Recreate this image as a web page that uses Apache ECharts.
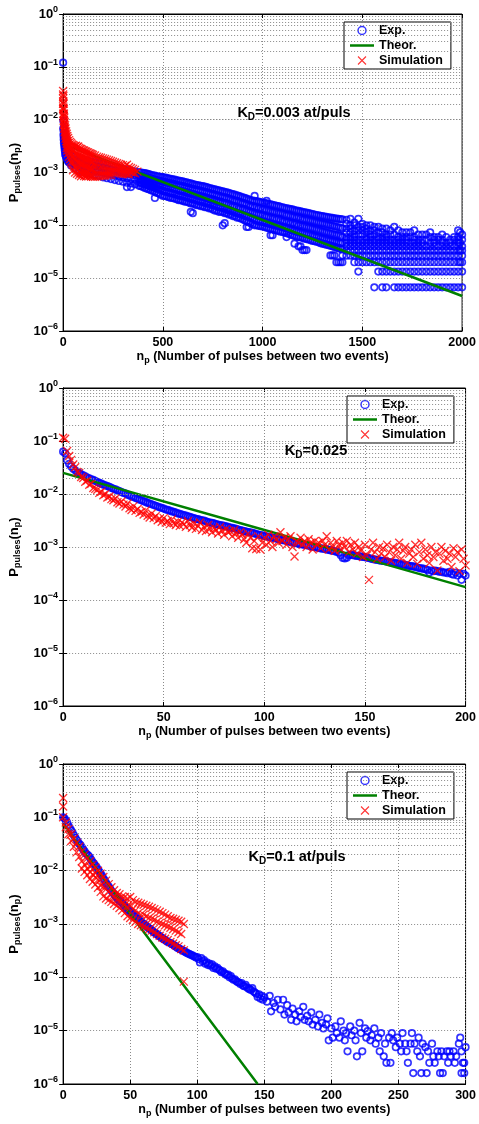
<!DOCTYPE html>
<html><head><meta charset="utf-8">
<script src="https://cdn.jsdelivr.net/npm/echarts@6/dist/echarts.min.js"></script>
<style>html,body{margin:0;padding:0;background:#fff}#c{width:479px;height:1124px}</style>
</head><body><div id="c"></div>
<script>
// ---------------- DATA ----------------
const xMaxes = [2000, 200, 300];
const xIntervals = [500, 50, 50];
const annotations = ['K_D=0.003 at/puls', 'K_D=0.025', 'K_D=0.1 at/puls'];
const legendNames = ['Exp.', 'Theor.', 'Simulation'];

// Panel 1 (rows: [n, P values at that n ...])
const exp1Rows = [
[0,0.12],[1,9.5e-3,6.5e-3],[2,7.0e-3,5.0e-3],[3,5.5e-3,4.2e-3],[4,4.6e-3,3.6e-3],[6,3.8e-3,3.1e-3],[8,3.3e-3,2.7e-3],
[10,3.0e-3,2.5e-3,2.2e-3],[14,2.7e-3,2.3e-3,2.0e-3],[18,2.5e-3,2.1e-3,1.85e-3],[22,2.4e-3,2.0e-3,1.7e-3],[26,2.3e-3,1.9e-3,1.6e-3],[30,2.3e-3,1.85e-3,1.55e-3],
[40,2.2e-3,1.8e-3,1.5e-3,1.35e-3],[60,2.05e-3,1.7e-3,1.4e-3,1.2e-3],[80,1.9e-3,1.6e-3,1.3e-3,1.1e-3],[100,1.75e-3,1.5e-3,1.25e-3,1.02e-3],
[120,1.7e-3,1.45e-3,1.2e-3,9.8e-4],[140,1.6e-3,1.38e-3,1.15e-3,9.4e-4],[160,1.55e-3,1.32e-3,1.1e-3,9.0e-4],[180,1.5e-3,1.28e-3,1.05e-3,8.6e-4],
[200,1.45e-3,1.22e-3,1.0e-3,8.1e-4],[220,1.4e-3,1.18e-3,9.6e-4,7.8e-4],[240,1.35e-3,1.13e-3,9.2e-4,7.5e-4],[260,1.3e-3,1.08e-3,8.8e-4,7.2e-4],
[280,1.22e-3,1.03e-3,8.4e-4,6.9e-4],[300,1.17e-3,9.9e-4,8.1e-4,6.7e-4],[320,1.12e-3,9.5e-4,7.8e-4,6.4e-4,5.3e-4],[340,1.08e-3,9.2e-4,7.5e-4,6.2e-4,5.3e-4],
[360,1.05e-3,8.9e-4,7.3e-4,6.0e-4],
[380,1.02e-3,8.9e-4,7.6e-4,6.5e-4,5.6e-4],[390,1.0e-3,8.6e-4,7.4e-4,6.3e-4,5.5e-4],[400,9.9e-4,8.5e-4,7.2e-4,6.1e-4,5.3e-4],
[410,9.7e-4,8.3e-4,7.0e-4,5.9e-4,5.1e-4],[420,9.5e-4,8.0e-4,6.9e-4,5.8e-4,4.9e-4],[430,9.3e-4,7.9e-4,6.7e-4,5.6e-4,4.8e-4],
[440,9.0e-4,7.7e-4,6.5e-4,5.4e-4,4.6e-4],[450,8.8e-4,7.5e-4,6.3e-4,5.3e-4,4.5e-4],[460,8.7e-4,7.3e-4,6.2e-4,5.1e-4,4.3e-4,3.3e-4],
[470,8.5e-4,7.2e-4,6.0e-4,5.0e-4,4.1e-4],[480,8.4e-4,7.0e-4,5.8e-4,4.8e-4,4.0e-4],[490,8.3e-4,6.9e-4,5.7e-4,4.7e-4,3.8e-4],
[500,8.2e-4,6.8e-4,5.6e-4,4.5e-4,3.6e-4],[510,8.0e-4,6.6e-4,5.4e-4,4.4e-4,3.6e-4],[520,7.9e-4,6.5e-4,5.3e-4,4.3e-4,3.5e-4],
[530,7.7e-4,6.3e-4,5.2e-4,4.2e-4,3.4e-4],[540,7.6e-4,6.2e-4,5.1e-4,4.1e-4,3.3e-4],[550,7.4e-4,6.1e-4,5.0e-4,4.0e-4,3.3e-4],
[560,7.3e-4,6.0e-4,4.9e-4,3.9e-4,3.2e-4],[570,7.1e-4,5.8e-4,4.7e-4,3.8e-4,3.1e-4],[580,7.0e-4,5.7e-4,4.6e-4,3.7e-4,3.0e-4],
[590,6.9e-4,5.6e-4,4.5e-4,3.6e-4,3.0e-4],[600,6.8e-4,5.5e-4,4.4e-4,3.6e-4,2.9e-4],[610,6.6e-4,5.4e-4,4.3e-4,3.5e-4,2.8e-4],
[620,6.5e-4,5.3e-4,4.2e-4,3.4e-4,2.8e-4],[630,6.3e-4,5.1e-4,4.1e-4,3.3e-4,2.7e-4],[640,6.2e-4,5.0e-4,4.0e-4,3.2e-4,2.6e-4,1.8e-4],
[650,6.0e-4,4.9e-4,3.9e-4,3.1e-4,2.6e-4,1.7e-4],[660,5.9e-4,4.8e-4,3.8e-4,3.1e-4,2.5e-4],[670,5.8e-4,4.7e-4,3.7e-4,3.0e-4,2.4e-4],
[680,5.7e-4,4.6e-4,3.6e-4,2.9e-4,2.4e-4],[690,5.6e-4,4.5e-4,3.5e-4,2.8e-4,2.3e-4],[700,5.5e-4,4.4e-4,3.5e-4,2.8e-4,2.3e-4],
[710,5.4e-4,4.3e-4,3.4e-4,2.7e-4,2.2e-4],[720,5.3e-4,4.2e-4,3.3e-4,2.6e-4,2.2e-4],[730,5.1e-4,4.1e-4,3.2e-4,2.6e-4,2.1e-4],
[740,5.0e-4,4.0e-4,3.1e-4,2.5e-4,2.1e-4],[750,4.9e-4,3.9e-4,3.1e-4,2.4e-4,2.0e-4],[760,4.8e-4,3.8e-4,3.0e-4,2.4e-4,1.9e-4],
[770,4.7e-4,3.7e-4,2.9e-4,2.3e-4,1.9e-4],[780,4.6e-4,3.6e-4,2.8e-4,2.2e-4,1.8e-4],[790,4.5e-4,3.5e-4,2.8e-4,2.2e-4,1.8e-4],
[800,4.4e-4,3.4e-4,2.7e-4,2.1e-4,1.8e-4,1.0e-4],[810,4.3e-4,3.4e-4,2.6e-4,2.1e-4,1.7e-4,1.1e-4],[820,4.2e-4,3.3e-4,2.6e-4,2.0e-4,1.7e-4],
[830,4.1e-4,3.2e-4,2.5e-4,1.9e-4,1.6e-4],[840,4.0e-4,3.1e-4,2.4e-4,1.9e-4,1.6e-4],[850,3.9e-4,3.0e-4,2.3e-4,1.8e-4,1.5e-4],
[860,3.8e-4,2.9e-4,2.3e-4,1.8e-4,1.5e-4],[870,3.7e-4,2.9e-4,2.2e-4,1.7e-4,1.4e-4],[880,3.6e-4,2.8e-4,2.1e-4,1.7e-4,1.4e-4],
[890,3.5e-4,2.7e-4,2.1e-4,1.6e-4,1.35e-4],[900,3.4e-4,2.6e-4,2.0e-4,1.6e-4,1.3e-4],[910,3.3e-4,2.6e-4,2.0e-4,1.5e-4,1.25e-4],
[920,3.2e-4,2.5e-4,1.9e-4,1.5e-4,1.2e-4,9.3e-5],[930,3.1e-4,2.4e-4,1.85e-4,1.45e-4,1.15e-4,9.3e-5],[940,3.0e-4,2.3e-4,1.8e-4,1.4e-4,1.1e-4],
[950,2.95e-4,2.3e-4,1.75e-4,1.35e-4,1.05e-4],[960,3.6e-4,2.9e-4,2.2e-4,1.7e-4,1.3e-4,1.0e-4],[970,2.85e-4,2.2e-4,1.65e-4,1.25e-4,1.0e-4],
[980,2.8e-4,2.1e-4,1.6e-4,1.2e-4,9.8e-5],[990,2.75e-4,2.1e-4,1.6e-4,1.2e-4,9.6e-5],[1000,2.7e-4,2.0e-4,1.55e-4,1.15e-4,9.5e-5],
[1010,2.65e-4,2.0e-4,1.5e-4,1.15e-4,9.3e-5],[1020,2.9e-4,2.6e-4,1.95e-4,1.45e-4,1.1e-4,9.0e-5],[1030,2.55e-4,1.9e-4,1.45e-4,1.1e-4,8.8e-5],
[1040,2.5e-4,1.85e-4,1.4e-4,1.05e-4,8.6e-5,6.5e-5],[1050,2.45e-4,1.8e-4,1.35e-4,1.05e-4,8.4e-5,6.5e-5],[1060,2.4e-4,1.8e-4,1.35e-4,1.0e-4,8.2e-5],
[1070,2.35e-4,1.75e-4,1.3e-4,1.0e-4,8.0e-5],[1080,2.3e-4,1.7e-4,1.3e-4,9.7e-5,7.8e-5],[1090,2.25e-4,1.7e-4,1.25e-4,9.5e-5,7.6e-5],
[1100,2.2e-4,1.65e-4,1.2e-4,9.3e-5,7.5e-5],[1110,2.15e-4,1.6e-4,1.2e-4,9.0e-5,7.3e-5],[1120,2.1e-4,1.55e-4,1.15e-4,8.8e-5,7.1e-5,6.0e-5],
[1130,2.07e-4,1.55e-4,1.15e-4,8.6e-5,6.9e-5],[1140,2.03e-4,1.5e-4,1.1e-4,8.3e-5,6.7e-5],[1150,2.0e-4,1.45e-4,1.1e-4,8.1e-5,6.5e-5],
[1160,1.95e-4,1.45e-4,1.05e-4,7.9e-5,6.3e-5,4.5e-5],[1170,1.9e-4,1.4e-4,1.05e-4,7.7e-5,6.1e-5],[1180,1.87e-4,1.4e-4,1.0e-4,7.5e-5,6.0e-5,4.0e-5],
[1190,1.83e-4,1.35e-4,1.0e-4,7.3e-5,5.9e-5,4.0e-5],[1200,1.8e-4,1.3e-4,9.7e-5,7.1e-5,5.8e-5,3.4e-5],[1210,1.77e-4,1.3e-4,9.5e-5,7.0e-5,5.6e-5,3.4e-5],
[1220,1.74e-4,1.27e-4,9.3e-5,6.8e-5,5.5e-5,3.4e-5],[1230,1.7e-4,1.25e-4,9.1e-5,6.7e-5,5.4e-5],[1240,1.67e-4,1.22e-4,8.9e-5,6.5e-5,5.2e-5],
[1250,1.64e-4,1.2e-4,8.7e-5,6.3e-5,5.1e-5],[1260,1.6e-4,1.17e-4,8.5e-5,6.2e-5,5.0e-5],[1270,1.57e-4,1.15e-4,8.3e-5,6.0e-5,4.9e-5],
[1280,1.55e-4,1.12e-4,8.1e-5,5.9e-5,4.8e-5],[1290,1.52e-4,1.1e-4,7.9e-5,5.7e-5,4.6e-5],[1300,1.5e-4,1.08e-4,7.7e-5,5.6e-5,4.5e-5],
[1310,1.47e-4,1.06e-4,7.5e-5,5.5e-5,4.4e-5],[1320,1.45e-4,1.04e-4,7.4e-5,5.3e-5,4.3e-5],[1330,1.42e-4,1.02e-4,7.2e-5,5.2e-5,4.2e-5],
[1340,1.4e-4,1.0e-4,7.0e-5,5.1e-5,4.1e-5,2.7e-5],[1350,1.38e-4,9.8e-5,6.9e-5,5.0e-5,4.0e-5,2.7e-5],[1360,1.36e-4,9.6e-5,6.7e-5,4.9e-5,3.9e-5,2.7e-5],
[1370,1.34e-4,9.4e-5,6.6e-5,4.8e-5,3.8e-5,2.0e-5],[1380,1.32e-4,9.2e-5,6.5e-5,4.7e-5,3.7e-5,2.0e-5],[1390,1.31e-4,9.0e-5,6.3e-5,4.6e-5,3.6e-5,2.0e-5],
[1400,1.3e-4,8.7e-5,6.0e-5,4.7e-5,3.5e-5,2.7e-5,2.0e-5],
[1420,1.27e-4,1.07e-4,8.67e-5,7.33e-5,6.0e-5,5.33e-5,4.67e-5,4.0e-5,3.33e-5,2.67e-5],
[1440,1.33e-4,1.0e-4,8.67e-5,7.33e-5,6.0e-5,5.33e-5,4.67e-5,4.0e-5,3.33e-5,2.67e-5],
[1460,1.13e-4,1.0e-4,8.0e-5,6.67e-5,6.0e-5,5.33e-5,4.67e-5,4.0e-5,3.33e-5,2.67e-5,2.0e-5],
[1480,1.33e-4,9.33e-5,8.0e-5,6.67e-5,5.33e-5,4.67e-5,4.0e-5,3.33e-5,2.67e-5,2.0e-5,1.33e-5],
[1500,1.07e-4,9.33e-5,8.0e-5,6.67e-5,5.33e-5,4.67e-5,4.0e-5,3.33e-5,2.67e-5,2.0e-5],
[1520,1.0e-4,8.67e-5,7.33e-5,6.0e-5,5.33e-5,4.67e-5,4.0e-5,3.33e-5,2.67e-5,2.0e-5],
[1540,1.0e-4,8.0e-5,6.67e-5,6.0e-5,5.33e-5,4.67e-5,4.0e-5,3.33e-5,2.67e-5,2.0e-5],
[1560,9.33e-5,8.0e-5,6.67e-5,5.33e-5,4.67e-5,4.0e-5,3.33e-5,2.67e-5,2.0e-5,6.7e-6],
[1580,9.33e-5,7.33e-5,6.0e-5,5.33e-5,4.67e-5,4.0e-5,3.33e-5,2.67e-5,2.0e-5,1.33e-5],
[1600,8.67e-5,7.33e-5,6.0e-5,5.33e-5,4.67e-5,4.0e-5,3.33e-5,2.67e-5,2.0e-5,1.33e-5,6.7e-6],
[1620,8.67e-5,6.67e-5,6.0e-5,5.33e-5,4.67e-5,4.0e-5,3.33e-5,2.67e-5,2.0e-5,1.33e-5,6.7e-6],
[1640,8.0e-5,6.67e-5,5.33e-5,4.67e-5,4.0e-5,3.33e-5,2.67e-5,2.0e-5,1.33e-5],
[1660,9.33e-5,6.67e-5,5.33e-5,4.67e-5,4.0e-5,3.33e-5,2.67e-5,2.0e-5,1.33e-5,6.7e-6],
[1680,8.0e-5,6.0e-5,5.33e-5,4.67e-5,4.0e-5,3.33e-5,2.67e-5,2.0e-5,1.33e-5,6.7e-6],
[1700,7.33e-5,6.0e-5,5.33e-5,4.67e-5,4.0e-5,3.33e-5,2.67e-5,2.0e-5,1.33e-5,6.7e-6],
[1720,7.33e-5,6.0e-5,5.33e-5,4.67e-5,4.0e-5,3.33e-5,2.67e-5,2.0e-5,1.33e-5,6.7e-6],
[1740,7.33e-5,6.0e-5,4.67e-5,4.0e-5,3.33e-5,2.67e-5,2.0e-5,1.33e-5,6.7e-6],
[1760,8.0e-5,6.0e-5,5.33e-5,4.67e-5,4.0e-5,3.33e-5,2.67e-5,2.0e-5,1.33e-5,6.7e-6],
[1780,6.67e-5,5.33e-5,4.67e-5,4.0e-5,3.33e-5,2.67e-5,2.0e-5,1.33e-5,6.7e-6],
[1800,6.67e-5,5.33e-5,4.67e-5,4.0e-5,3.33e-5,2.67e-5,2.0e-5,1.33e-5,6.7e-6],
[1820,6.67e-5,5.33e-5,4.0e-5,3.33e-5,2.67e-5,2.0e-5,1.33e-5,6.7e-6],
[1840,7.33e-5,6.0e-5,4.67e-5,4.0e-5,3.33e-5,2.67e-5,2.0e-5,1.33e-5,6.7e-6],
[1860,6.0e-5,5.33e-5,4.67e-5,4.0e-5,3.33e-5,2.67e-5,2.0e-5,1.33e-5,6.7e-6],
[1880,6.0e-5,5.33e-5,4.0e-5,3.33e-5,2.67e-5,2.0e-5,1.33e-5,6.7e-6],
[1900,6.67e-5,5.33e-5,4.67e-5,4.0e-5,3.33e-5,2.67e-5,2.0e-5,1.33e-5,6.7e-6],
[1920,6.0e-5,4.67e-5,4.0e-5,3.33e-5,2.67e-5,2.0e-5,1.33e-5,6.7e-6],
[1940,5.33e-5,4.67e-5,4.0e-5,3.33e-5,2.67e-5,2.0e-5,1.33e-5,6.7e-6],
[1960,6.0e-5,5.33e-5,4.0e-5,3.33e-5,2.67e-5,2.0e-5,1.33e-5,6.7e-6],
[1980,8.0e-5,6.0e-5,5.33e-5,4.67e-5,4.0e-5,3.33e-5,2.67e-5,2.0e-5,1.33e-5,6.7e-6],
[1990,7.33e-5,4.67e-5,3.33e-5,2.0e-5],
[2000,6.67e-5,5.33e-5,4.0e-5,3.33e-5,2.67e-5,2.0e-5,1.33e-5,6.7e-6]
];
const theo1 = [[0,3.45e-3],[1000,1.26e-4],[2000,4.6e-6]];
const sim1Rows = [
[0,3.5e-2,3.0e-2,2.5e-2,2.0e-2,1.6e-2],[1,2.8e-2,2.2e-2,1.7e-2,1.3e-2],[2,2.0e-2,1.5e-2,1.15e-2],[3,1.6e-2,1.2e-2,9.5e-3],[4,1.3e-2,1.0e-2,8.0e-3],
[6,1.1e-2,8.5e-3,6.8e-3],[8,9.0e-3,7.2e-3,5.8e-3],[10,7.8e-3,6.2e-3,5.0e-3],[12,6.8e-3,5.5e-3,4.4e-3],[15,6.0e-3,4.8e-3,3.9e-3],
[18,5.4e-3,4.3e-3,3.5e-3,2.9e-3],[21,4.9e-3,3.9e-3,3.2e-3,2.6e-3],[25,4.5e-3,3.6e-3,2.9e-3,2.3e-3],[30,4.1e-3,3.3e-3,2.6e-3,2.0e-3],
[35,3.8e-3,3.0e-3,2.4e-3,1.8e-3],[40,3.6e-3,2.8e-3,2.2e-3,1.6e-3],[45,3.4e-3,2.6e-3,2.0e-3,1.5e-3],[50,3.3e-3,2.5e-3,1.9e-3,1.4e-3,1.1e-3],
[55,3.2e-3,2.4e-3,1.8e-3,1.3e-3],[60,3.1e-3,2.3e-3,1.75e-3,1.25e-3,1.0e-3],[65,3.2e-3,2.2e-3,1.7e-3,1.2e-3],[70,3.0e-3,2.2e-3,1.6e-3,1.15e-3,9.5e-4],
[75,3.1e-3,2.1e-3,1.55e-3,1.1e-3],[80,2.9e-3,2.1e-3,1.5e-3,1.05e-3,9.0e-4],[85,2.8e-3,2.0e-3,1.45e-3,1.0e-3],[90,2.8e-3,2.0e-3,1.45e-3,9.8e-4,8.5e-4],
[95,2.7e-3,1.95e-3,1.4e-3,9.5e-4],[100,2.6e-3,1.9e-3,1.4e-3,9.2e-4],[105,2.6e-3,1.85e-3,1.35e-3,1.0e-3,8.6e-4],[110,2.5e-3,1.85e-3,1.3e-3,9.0e-4],
[115,2.5e-3,1.8e-3,1.3e-3,9.5e-4,8.4e-4],[120,2.4e-3,1.8e-3,1.25e-3,8.8e-4],[125,2.4e-3,1.75e-3,1.25e-3,9.3e-4],[130,2.3e-3,1.7e-3,1.2e-3,8.6e-4],
[135,2.3e-3,1.7e-3,1.2e-3,9.0e-4],[140,2.25e-3,1.65e-3,1.2e-3,8.4e-4],[145,2.2e-3,1.6e-3,1.15e-3,8.8e-4],[150,2.15e-3,1.6e-3,1.15e-3,8.3e-4],
[160,2.1e-3,1.55e-3,1.12e-3,8.3e-4],[170,2.0e-3,1.5e-3,1.1e-3,8.4e-4],[180,1.95e-3,1.45e-3,1.08e-3,8.5e-4],[190,1.9e-3,1.45e-3,1.06e-3,8.6e-4],
[200,1.85e-3,1.4e-3,1.05e-3,8.7e-4],[210,1.8e-3,1.38e-3,1.04e-3,8.8e-4],[220,1.75e-3,1.35e-3,1.03e-3,8.9e-4],[230,1.7e-3,1.32e-3,1.02e-3,9.0e-4],
[240,1.65e-3,1.3e-3,1.02e-3,9.0e-4],[250,1.6e-3,1.27e-3,1.02e-3],[260,1.55e-3,1.25e-3,1.0e-3],[270,1.5e-3,1.22e-3,1.0e-3],[280,1.45e-3,1.2e-3,9.8e-4],
[290,1.4e-3,1.15e-3,9.6e-4],[300,1.38e-3,1.12e-3,9.5e-4],[310,1.33e-3,1.1e-3,9.5e-4],[320,1.4e-3,1.1e-3,9.4e-4],[330,1.27e-3,1.06e-3,9.2e-4],
[340,1.22e-3,1.02e-3],[350,1.17e-3,9.9e-4],[360,1.12e-3,9.7e-4],[372,1.04e-3]
];

// Panel 2 (one value per n = 0..200)
const exp2P = [
6.3e-2,5.9e-2,4.3e-2,3.7e-2,3.3e-2,3.0e-2,2.8e-2,2.6e-2,2.5e-2,2.35e-2,
2.25e-2,2.15e-2,2.05e-2,1.98e-2,1.9e-2,1.84e-2,1.76e-2,1.7e-2,1.62e-2,1.57e-2,
1.5e-2,1.46e-2,1.41e-2,1.36e-2,1.3e-2,1.25e-2,1.22e-2,1.17e-2,1.13e-2,1.09e-2,
1.05e-2,1.02e-2,9.7e-3,9.4e-3,9.0e-3,8.8e-3,8.4e-3,8.1e-3,7.8e-3,7.6e-3,
7.3e-3,7.1e-3,6.8e-3,6.6e-3,6.4e-3,6.2e-3,6.0e-3,5.8e-3,5.6e-3,5.45e-3,
5.3e-3,5.1e-3,5.0e-3,4.85e-3,4.7e-3,4.6e-3,4.45e-3,4.3e-3,4.2e-3,4.1e-3,
4.0e-3,3.9e-3,3.8e-3,3.7e-3,3.6e-3,3.5e-3,3.4e-3,3.35e-3,3.25e-3,3.2e-3,
3.15e-3,3.05e-3,2.95e-3,2.9e-3,2.85e-3,2.8e-3,2.7e-3,2.65e-3,2.6e-3,2.55e-3,
2.5e-3,2.45e-3,2.4e-3,2.32e-3,2.3e-3,2.25e-3,2.2e-3,2.12e-3,2.08e-3,2.04e-3,
2.0e-3,1.95e-3,1.92e-3,1.88e-3,1.84e-3,1.8e-3,1.76e-3,1.72e-3,1.68e-3,1.65e-3,
1.62e-3,1.58e-3,1.56e-3,1.52e-3,1.5e-3,1.47e-3,1.44e-3,1.4e-3,1.38e-3,1.35e-3,
1.33e-3,1.3e-3,1.27e-3,1.24e-3,1.22e-3,1.2e-3,1.18e-3,1.15e-3,1.13e-3,1.11e-3,
1.1e-3,1.08e-3,1.06e-3,1.03e-3,1.01e-3,1.0e-3,9.8e-4,9.6e-4,9.4e-4,9.3e-4,
9.2e-4,9.0e-4,8.8e-4,8.6e-4,8.5e-4,8.3e-4,8.1e-4,7.8e-4,7.0e-4,6.2e-4,
6.1e-4,6.3e-4,7.0e-4,7.2e-4,7.0e-4,6.9e-4,6.8e-4,6.7e-4,6.6e-4,6.5e-4,
6.4e-4,6.3e-4,6.2e-4,6.0e-4,5.9e-4,5.8e-4,5.7e-4,5.6e-4,5.5e-4,5.45e-4,
5.4e-4,5.3e-4,5.2e-4,5.1e-4,5.0e-4,5.0e-4,4.9e-4,4.8e-4,4.7e-4,4.65e-4,
4.6e-4,4.5e-4,4.4e-4,4.35e-4,4.3e-4,4.2e-4,4.1e-4,4.0e-4,3.95e-4,3.9e-4,
3.8e-4,3.7e-4,3.3e-4,3.6e-4,3.5e-4,3.6e-4,3.5e-4,3.4e-4,3.45e-4,3.3e-4,
3.3e-4,3.2e-4,3.4e-4,3.1e-4,3.0e-4,3.3e-4,2.9e-4,3.2e-4,2.4e-4,3.1e-4,
2.9e-4
];
const theo2 = [[0,2.5e-2],[100,2.1e-3],[200,1.75e-4]];
const sim2P = [
1.15e-1,1.1e-1,6.5e-2,5.2e-2,4.4e-2,3.6e-2,3.2e-2,2.6e-2,2.5e-2,2.1e-2,
2.0e-2,1.7e-2,1.8e-2,1.5e-2,1.55e-2,1.3e-2,1.25e-2,1.2e-2,1.05e-2,1.1e-2,
9.5e-3,1.0e-2,8.6e-3,9.0e-3,8.0e-3,7.6e-3,8.2e-3,7.0e-3,6.6e-3,7.2e-3,
6.3e-3,5.8e-3,6.6e-3,5.4e-3,5.0e-3,5.9e-3,4.8e-3,5.2e-3,4.4e-3,4.6e-3,
4.1e-3,4.9e-3,3.9e-3,3.6e-3,4.3e-3,3.5e-3,3.8e-3,3.2e-3,3.4e-3,3.0e-3,
3.5e-3,2.9e-3,3.1e-3,2.7e-3,3.3e-3,2.8e-3,2.6e-3,3.0e-3,2.5e-3,2.9e-3,
2.7e-3,2.4e-3,3.1e-3,2.6e-3,2.3e-3,2.8e-3,2.2e-3,2.5e-3,2.9e-3,2.1e-3,
2.4e-3,2.0e-3,2.6e-3,2.2e-3,1.9e-3,2.3e-3,2.1e-3,1.8e-3,2.4e-3,2.0e-3,
1.7e-3,2.2e-3,1.9e-3,2.0e-3,1.6e-3,2.1e-3,1.8e-3,1.5e-3,1.9e-3,1.7e-3,
1.4e-3,1.2e-3,1.8e-3,1.5e-3,9.5e-4,1.3e-3,9.2e-4,1.6e-3,9.0e-4,1.2e-3,
1.5e-3,1.1e-3,1.7e-3,1.3e-3,1.0e-3,1.6e-3,1.4e-3,1.2e-3,1.9e-3,1.3e-3,
1.5e-3,1.1e-3,1.4e-3,1.6e-3,1.0e-3,6.6e-4,1.3e-3,1.2e-3,1.5e-3,1.1e-3,
1.3e-3,1.0e-3,1.4e-3,1.2e-3,9.0e-4,1.3e-3,1.1e-3,1.2e-3,9.5e-4,1.3e-3,
1.1e-3,1.6e-3,9.0e-4,1.2e-3,1.0e-3,8.5e-4,1.3e-3,1.1e-3,9.0e-4,1.2e-3,
1.0e-3,1.3e-3,8.0e-4,1.1e-3,9.0e-4,1.2e-3,7.5e-4,1.0e-3,8.5e-4,6.5e-4,
1.1e-3,7.0e-4,2.4e-4,9.0e-4,1.2e-3,8.0e-4,6.0e-4,1.0e-3,7.5e-4,9.5e-4,
6.5e-4,1.1e-3,8.0e-4,5.5e-4,1.0e-3,7.0e-4,9.0e-4,1.2e-3,6.0e-4,8.5e-4,
1.0e-3,5.0e-4,7.5e-4,9.0e-4,6.5e-4,1.1e-3,4.8e-4,8.0e-4,1.2e-3,6.0e-4,
9.0e-4,7.0e-4,5.0e-4,1.0e-3,6.5e-4,8.0e-4,3.6e-4,7.5e-4,1.0e-3,5.5e-4,
8.5e-4,6.0e-4,7.5e-4,4.2e-4,9.5e-4,6.5e-4,8.0e-4,3.5e-4,9.0e-4,6.0e-4,
4.5e-4
];

// Panel 3
const exp3P = [
1.0e-1,9.6e-2,8.8e-2,8.0e-2,7.0e-2,6.3e-2,5.7e-2,5.2e-2,4.6e-2,4.2e-2,
3.8e-2,3.5e-2,3.2e-2,3.0e-2,2.7e-2,2.5e-2,2.3e-2,2.1e-2,2.0e-2,1.9e-2,
1.75e-2,1.6e-2,1.45e-2,1.35e-2,1.25e-2,1.15e-2,1.05e-2,9.6e-3,8.8e-3,8.0e-3,
7.2e-3,6.6e-3,5.9e-3,5.4e-3,5.0e-3,4.6e-3,4.2e-3,3.9e-3,3.6e-3,3.3e-3,
3.1e-3,2.9e-3,2.7e-3,2.6e-3,2.45e-3,2.3e-3,2.15e-3,2.0e-3,1.9e-3,1.8e-3,
1.7e-3,1.6e-3,1.5e-3,1.42e-3,1.35e-3,1.28e-3,1.22e-3,1.17e-3,1.1e-3,1.05e-3,
1.0e-3,9.6e-4,9.1e-4,8.7e-4,8.3e-4,8.0e-4,7.6e-4,7.2e-4,6.9e-4,6.7e-4,
6.4e-4,6.1e-4,5.9e-4,5.6e-4,5.4e-4,5.2e-4,5.0e-4,4.8e-4,4.6e-4,4.5e-4,
4.4e-4,4.2e-4,4.1e-4,3.9e-4,3.8e-4,3.6e-4,3.5e-4,3.4e-4,3.3e-4,3.2e-4,
3.1e-4,3.0e-4,2.9e-4,2.8e-4,2.75e-4,2.65e-4,2.6e-4,2.5e-4,2.45e-4,2.35e-4,
2.4e-4,2.2e-4,1.9e-4,2.3e-4,2.0e-4,2.1e-4,1.8e-4,1.9e-4,1.7e-4,1.8e-4,
1.65e-4,1.75e-4,1.5e-4,1.6e-4,1.45e-4,1.5e-4,1.4e-4,1.35e-4,1.25e-4,1.3e-4,
1.2e-4,1.15e-4,1.1e-4,1.12e-4,1.0e-4,1.05e-4,9.5e-5,9.0e-5,9.2e-5,8.5e-5,
8.2e-5,8.0e-5,7.5e-5,7.8e-5,7.0e-5,6.8e-5,7.2e-5,6.5e-5,6.2e-5,6.0e-5,
5.8e-5,6.3e-5,5.4e-5,5.2e-5,4.9e-5,4.3e-5,4.8e-5,4.0e-5,4.5e-5,3.8e-5,
4.2e-5
];
const exp3Tail = [
[152,3.5e-5],[154,4.5e-5],[155,2.3e-5],[157,3.3e-5],[158,2.8e-5],[160,3.8e-5],[162,2.5e-5],[164,3.8e-5],[165,2.0e-5],[167,3.0e-5],
[168,2.2e-5],[170,1.6e-5],[171,2.6e-5],[173,2.0e-5],[174,1.5e-5],[176,2.3e-5],[177,1.8e-5],[179,2.8e-5],[180,1.6e-5],[182,1.9e-5],
[183,1.5e-5],[185,2.2e-5],[186,1.3e-5],[188,1.6e-5],[190,1.2e-5],[191,2.0e-5],[193,1.4e-5],[194,1.1e-5],[196,1.3e-5],[197,1.7e-5],
[198,6.6e-6],[200,1.1e-5],[201,7.4e-6],[203,1.2e-5],[204,9.0e-6],[206,7.4e-6],[207,1.5e-5],[209,1.0e-5],[210,6.6e-6],[211,9.0e-6],
[212,4.1e-6],[214,1.2e-5],[215,8.2e-6],[217,1.0e-5],[218,6.6e-6],[219,3.3e-6],[221,1.4e-5],[222,9.0e-6],[223,4.1e-6],[225,1.1e-5],
[226,7.4e-6],[227,9.8e-6],[229,6.6e-6],[230,8.2e-6],[232,1.1e-5],[233,5.7e-6],[235,7.4e-6],[236,4.1e-6],[237,9.0e-6],[239,3.3e-6],
[240,5.7e-6],[241,2.5e-6],[243,7.4e-6],[244,2.5e-6],[245,9.0e-6],[246,6.6e-6],[248,4.9e-6],[249,7.4e-6],[251,5.7e-6],[252,4.1e-6],
[253,9.0e-6],[255,5.7e-6],[256,4.1e-6],[257,2.5e-6],[259,5.7e-6],[260,9.0e-6],[261,1.6e-6],[262,5.7e-6],[264,4.1e-6],[265,7.4e-6],
[266,3.3e-6],[267,1.6e-6],[268,5.7e-6],[270,4.9e-6],[271,1.6e-6],[272,4.1e-6],[273,2.5e-6],[275,5.7e-6],[276,3.3e-6],[277,2.5e-6],
[279,4.1e-6],[280,3.3e-6],[281,1.6e-6],[282,4.1e-6],[283,1.6e-6],[284,3.3e-6],[286,4.1e-6],[287,2.5e-6],[288,4.1e-6],[289,3.3e-6],
[291,4.1e-6],[292,2.5e-6],[293,3.3e-6],[295,5.7e-6],[296,7.4e-6],[297,1.6e-6],[298,2.5e-6],[299,1.6e-6],[300,4.9e-6],[299,2.5e-6],[297,4.1e-6]
];
const theo3 = [[0,7.5e-2],[70,3.3e-4],[145,1.0e-6]];
const sim3Rows = [
[0,2.3e-1,1.6e-1,1.0e-1],[2,8.0e-2,6.5e-2],[4,6.0e-2,4.8e-2],[6,4.8e-2,3.6e-2],[8,4.0e-2,2.8e-2],[10,3.3e-2,2.2e-2],[12,2.8e-2,1.8e-2],
[14,2.3e-2,1.5e-2,1.1e-2],[16,2.0e-2,1.3e-2,9.5e-3],[18,1.7e-2,1.1e-2,8.2e-3],[20,1.5e-2,1.2e-2,9.5e-3,7.0e-3],[22,1.3e-2,8.5e-3,6.2e-3],
[24,1.15e-2,9.0e-3,7.5e-3,5.5e-3],[26,1.0e-2,6.8e-3,4.8e-3],[28,8.8e-3,6.8e-3,5.2e-3,4.0e-3],[30,7.6e-3,5.0e-3,3.3e-3],[32,6.5e-3,4.5e-3,3.0e-3],
[34,5.6e-3,4.0e-3,2.8e-3],[36,4.9e-3,3.6e-3,2.6e-3],[38,4.3e-3,3.2e-3,2.4e-3],[40,3.8e-3,2.9e-3,2.2e-3],[42,3.6e-3,2.7e-3,2.0e-3],
[44,3.3e-3,2.5e-3,1.8e-3],[46,3.2e-3,2.3e-3,1.6e-3],[48,3.0e-3,2.1e-3,1.4e-3],[50,3.2e-3,2.2e-3,1.3e-3],[52,2.8e-3,1.9e-3,1.2e-3],
[54,2.6e-3,1.8e-3,1.1e-3],[56,2.5e-3,1.6e-3,1.0e-3],[58,2.4e-3,1.5e-3,9.5e-4],[60,2.3e-3,1.5e-3,9.0e-4],[62,2.2e-3,1.4e-3,8.5e-4],
[64,2.1e-3,1.3e-3,8.0e-4],[66,2.0e-3,1.25e-3,7.5e-4],[68,1.9e-3,1.2e-3,7.0e-4],[70,1.8e-3,1.1e-3,6.5e-4],[72,1.7e-3,1.05e-3,6.0e-4],
[74,1.6e-3,1.0e-3,5.6e-4],[76,1.5e-3,9.5e-4,5.3e-4],[78,1.4e-3,9.0e-4,5.0e-4],[80,1.3e-3,8.5e-4,4.6e-4],[82,1.25e-3,8.0e-4,4.3e-4],
[84,1.2e-3,7.5e-4,4.0e-4],[86,1.15e-3,7.0e-4,3.8e-4],[88,1.1e-3,6.5e-4,3.4e-4],[90,1.0e-3,3.2e-4,8.3e-5]
];

// ---------------- BUILD ----------------
const FONT = '"Liberation Sans", Arial, Helvetica, sans-serif';
function expandRows(rows){ const out=[]; rows.forEach(r=>{ for(let k=1;k<r.length;k++) out.push([r[0], r[k]]); }); return out; }
function indexed(arr){ return arr.map((v,i)=>[i,v]); }

const expData = [expandRows(exp1Rows), indexed(exp2P), indexed(exp3P).concat(exp3Tail)];
const theoData = [theo1, theo2, theo3];
const simData = [expandRows(sim1Rows), indexed(sim2P), expandRows(sim3Rows)];

const grids = [
  {left:62, top:14, width:403, height:317},
  {left:62, top:388, width:405, height:318},
  {left:62, top:764, width:406, height:320}
];
const legendPos = [[344,22],[347,396],[347,772]];
const annPos = [[294,113],[316,451],[297,857]];

const minorVals = [];
for (let e=-6;e<0;e++) for (let m=2;m<=9;m++) minorVals.push(m*Math.pow(10,e));

const gridLine = {color:'#8a8a8a', width:1, type:[1,2]};
const black = {color:'#000', width:1};

function yLabel(v){ const e=Math.round(Math.log10(v)); return '{b|10}{e|'+(e<0?'\u2212'+(-e):String(e))+'}'; }

const xAxes=[], yAxes=[], series=[], legends=[], graphics=[];
grids.forEach((g,i)=>{
  xAxes.push({type:'value', gridIndex:i, min:0, max:xMaxes[i], interval:xIntervals[i], position:'bottom',
    axisLine:{show:true, lineStyle:black}, axisTick:{inside:true, length:4, lineStyle:black},
    axisLabel:{color:'#000', fontFamily:FONT, fontWeight:'bold', fontSize:12.5, margin:5, formatter:v=>String(v)},
    splitLine:{show:true, lineStyle:gridLine},
    name:'{m|n}{s|p}{m| (Number of pulses between two events)}', nameLocation:'middle', nameGap:11,
    nameTextStyle:{rich:{m:{fontFamily:FONT, fontWeight:'bold', fontSize:12.5, color:'#000'}, s:{fontFamily:FONT, fontWeight:'bold', fontSize:9, color:'#000', padding:[8,0,0,0]}}}
  });
  xAxes.push({type:'value', gridIndex:i, min:0, max:xMaxes[i], interval:xIntervals[i], position:'top',
    axisLine:{show:true, lineStyle:black}, axisTick:{inside:true, length:4, lineStyle:black},
    axisLabel:{show:false}, splitLine:{show:false}});
  yAxes.push({type:'log', logBase:10, gridIndex:i, min:1e-6, max:1, splitNumber:6, position:'left',
    axisLine:{show:true, lineStyle:black}, axisTick:{inside:true, length:4, lineStyle:black},
    axisLabel:{formatter:yLabel, margin:5, rich:{
      b:{fontFamily:FONT, fontWeight:'bold', fontSize:13, color:'#000'},
      e:{fontFamily:FONT, fontWeight:'bold', fontSize:9, color:'#000', padding:[0,0,9,0]}}},
    splitLine:{show:true, lineStyle:gridLine},
    name:'{m|P}{s|pulses}{m|(n}{s|p}{m|)}', nameLocation:'middle', nameRotate:90, nameGap:26,
    nameTextStyle:{rich:{m:{fontFamily:FONT, fontWeight:'bold', fontSize:13, color:'#000'}, s:{fontFamily:FONT, fontWeight:'bold', fontSize:9, color:'#000', padding:[7,0,0,0]}}}
  });
  yAxes.push({type:'log', logBase:10, gridIndex:i, min:1e-6, max:1, splitNumber:6, position:'right',
    axisLine:{show:true, lineStyle:black}, axisTick:{inside:true, length:4, lineStyle:black},
    axisLabel:{show:false}, splitLine:{show:false}});
  const xi = 2*i, yi = 2*i;
  series.push({type:'line', xAxisIndex:xi, yAxisIndex:yi, data:[[0,1e-6]], showSymbol:false, silent:true, z:1,
    lineStyle:{width:0},
    markLine:{silent:true, symbol:'none', label:{show:false}, lineStyle:gridLine, animation:false,
      data:minorVals.map(v=>({yAxis:v}))}});
  series.push({type:'scatter', name:'Exp.', xAxisIndex:xi, yAxisIndex:yi, data:expData[i], symbol:'circle', symbolSize:6.5,
    itemStyle:{color:'rgba(0,0,0,0)', borderColor:'#0000ff', borderWidth:1.7}, silent:true, z:3});
  series.push({type:'line', name:'Theor.', xAxisIndex:xi, yAxisIndex:yi, data:theoData[i], symbol:'none', showSymbol:false,
    lineStyle:{color:'#008000', width:2.5}, itemStyle:{color:'#008000'}, silent:true, z:4});
  series.push({type:'scatter', name:'Simulation', xAxisIndex:xi, yAxisIndex:yi, data:simData[i], symbol:'path://M0,0L10,10M10,0L0,10', symbolSize:8,
    itemStyle:{color:'rgba(0,0,0,0)', borderColor:'#ff0000', borderWidth:1.3}, silent:true, z:5});
  legends.push({left:legendPos[i][0], top:legendPos[i][1], orient:'vertical', selectedMode:false,
    backgroundColor:'#fff', borderColor:'#000', borderWidth:1, padding:[1,8,1,6], itemGap:0,
    itemWidth:24, itemHeight:8, itemStyle:{borderWidth:1.5},
    textStyle:{fontFamily:FONT, fontWeight:'bold', fontSize:12.5, color:'#000', lineHeight:15},
    data:[{name:legendNames[0]}, {name:legendNames[1], icon:'path://M0,0L24,0L24,2.5L0,2.5Z', itemStyle:{borderWidth:0}}, {name:legendNames[2], itemStyle:{borderWidth:1.1}}]});
  const t = annotations[i];
  const parts = t.split('_D');
  graphics.push({type:'text', x:annPos[i][0], y:annPos[i][1], z:10, silent:true,
    style:{text:'{k|'+parts[0]+'}{d|D}{k|'+parts[1]+'}', align:'center', verticalAlign:'middle',
      rich:{k:{fontFamily:FONT, fontWeight:'bold', fontSize:14.5, fill:'#000', color:'#000'},
            d:{fontFamily:FONT, fontWeight:'bold', fontSize:10, fill:'#000', color:'#000', padding:[9,0,0,0]}}}});
});

const chart = echarts.init(document.getElementById('c'), null, {renderer:'canvas'});
chart.setOption({
  animation:false, backgroundColor:'#fff',
  grid: grids.map(g=>Object.assign({show:true, borderColor:'#000', borderWidth:1, backgroundColor:'transparent', containLabel:false}, g)),
  xAxis:xAxes, yAxis:yAxes, series:series, legend:legends, graphic:graphics
});
</script>
</body></html>
